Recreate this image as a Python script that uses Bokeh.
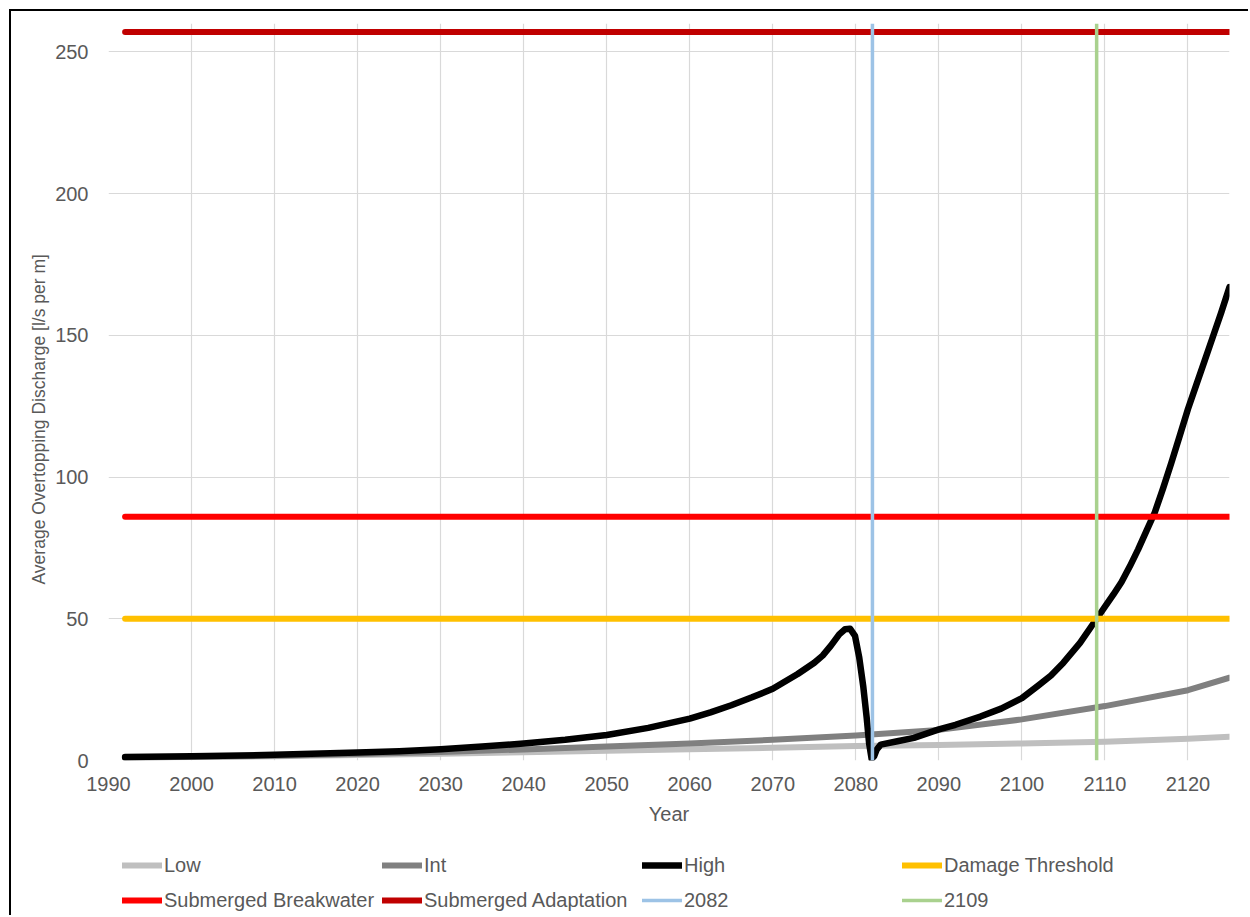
from bokeh.plotting import figure
from bokeh.layouts import column
from bokeh.models import Range1d, FixedTicker, Legend, LegendItem, Title
from bokeh.embed import file_html
from bokeh.resources import INLINE

# ---------------- data ----------------
years = [1992, 2000, 2010, 2020, 2030, 2040, 2050, 2060, 2070, 2080, 2090, 2100, 2110, 2120, 2125]
low = [1.0, 1.2, 1.5, 1.9, 2.4, 2.9, 3.4, 4.0, 4.5, 5.1, 5.5, 6.0, 6.6, 7.7, 8.4]
intermediate = [1.0, 1.3, 1.7, 2.3, 3.0, 3.9, 4.9, 6.0, 7.3, 8.8, 10.8, 14.5, 19.2, 24.8, 29.2]

high_years = [1992, 2000, 2010, 2020, 2025, 2030, 2035, 2040, 2045, 2050, 2055, 2060, 2062.5,
              2065, 2067.5, 2070, 2073, 2075, 2076, 2077, 2078, 2078.7, 2079.3, 2079.9, 2080.4,
              2080.9, 2081.3, 2081.6, 2081.9, 2082.2, 2082.5, 2083.0, 2085, 2087, 2090, 2092,
              2095, 2097.5, 2100, 2102, 2103.5, 2105, 2107, 2109, 2111, 2112, 2113, 2114, 2115,
              2116, 2117, 2118, 2119, 2120, 2121, 2122, 2123, 2124, 2125]
high = [1.2, 1.5, 2.0, 2.8, 3.3, 4.0, 4.9, 6.0, 7.3, 9.0, 11.5, 14.8, 17.0,
        19.5, 22.3, 25.3, 30.5, 34.5, 37.0, 40.5, 44.5, 46.3, 46.5, 44.0, 36.5,
        26.0, 15.3, 6.0, 0.6, 1.5, 3.8, 5.6, 6.8, 8.0, 11.0, 12.6,
        15.5, 18.3, 22.0, 26.5, 30.0, 34.5, 41.5, 50.0, 58.5, 63.0, 68.5, 74.5, 81.0,
        87.5, 96.0, 105.0, 114.5, 124.0, 132.5, 141.0, 149.5, 158.0, 167.0]

threshold_years = [1992, 2125]
damage_threshold = [50, 50]
submerged_breakwater = [86, 86]
submerged_adaptation = [257, 257]

marker_2082 = [2082, 2082]
marker_2109 = [2109, 2109]
marker_span = [0, 260]

x_ticks = [1990, 2000, 2010, 2020, 2030, 2040, 2050, 2060, 2070, 2080, 2090, 2100, 2110, 2120]
y_ticks = [0, 50, 100, 150, 200, 250]

series_names = ["Low", "Int", "High", "Damage Threshold",
                "Submerged Breakwater", "Submerged Adaptation", "2082", "2109"]
series_colors = ["#BFBFBF", "#808080", "#000000", "#FFC000",
                 "#FF0000", "#C00000", "#9DC3E6", "#A9D18E"]
series_widths = [6, 6, 6.5, 6, 6, 6, 3.5, 3.5]
series_xy = [(years, low), (years, intermediate), (high_years, high),
             (threshold_years, damage_threshold), (threshold_years, submerged_breakwater),
             (threshold_years, submerged_adaptation), (marker_2082, marker_span),
             (marker_2109, marker_span)]

FONT = "Liberation Sans"
TXT = "#595959"

# ---------------- main chart ----------------
p = figure(width=1248, height=848, output_backend="svg", toolbar_location=None,
           x_range=Range1d(1990, 2125), y_range=Range1d(0, 260),
           min_border_left=108, min_border_right=19, min_border_top=23, min_border_bottom=88)
p.styles = {"background": "linear-gradient(#000,#000) 9px 9px / 2px 100% no-repeat, "
                          "linear-gradient(#000,#000) 9px 9px / 100% 2px no-repeat, #ffffff"}
p.border_fill_color = None
p.outline_line_color = None
p.background_fill_color = "white"

p.xaxis.ticker = FixedTicker(ticks=x_ticks)
p.yaxis.ticker = FixedTicker(ticks=y_ticks)
for ax in (p.xaxis[0], p.yaxis[0]):
    ax.axis_line_color = None
    ax.major_tick_line_color = None
    ax.minor_tick_line_color = None
    ax.major_label_text_font = FONT
    ax.major_label_text_font_size = "20px"
    ax.major_label_text_color = TXT
    ax.axis_label_text_font = FONT
    ax.axis_label_text_font_style = "normal"
    ax.axis_label_text_color = TXT
p.xaxis.axis_label = "Year"
p.xaxis.axis_label_text_font_size = "20px"
p.xaxis.major_label_standoff = 10
p.xaxis.axis_label_standoff = 9
p.yaxis.major_label_standoff = 14

p.add_layout(Title(text="Average Overtopping Discharge [l/s per m]", align="left", offset=176,
                   text_font=FONT, text_font_size="17.5px", text_font_style="normal",
                   text_color=TXT, standoff=8), "left")

p.xgrid.ticker = FixedTicker(ticks=x_ticks)
p.ygrid.ticker = FixedTicker(ticks=y_ticks)
p.xgrid.grid_line_color = "#D9D9D9"
p.ygrid.grid_line_color = "#D9D9D9"
p.xgrid.grid_line_width = 1.2
p.ygrid.grid_line_width = 1.2

for i, (xs, ys) in enumerate(series_xy):
    cap = "round" if i < 6 else "butt"
    p.line(xs, ys, line_color=series_colors[i], line_width=series_widths[i],
           line_cap=cap, line_join="round")

# ---------------- legend strip ----------------
lf = figure(width=1248, height=67, output_backend="svg", toolbar_location=None,
            x_axis_type=None, y_axis_type=None, x_range=Range1d(0, 1), y_range=Range1d(0, 1),
            min_border_left=0, min_border_right=0, min_border_top=0, min_border_bottom=0)
lf.styles = {"background": "linear-gradient(#000,#000) 9px 0px / 2px 100% no-repeat, #ffffff"}
lf.border_fill_color = None
lf.background_fill_color = None
lf.outline_line_color = None
lf.grid.visible = False

# legend-only renderers (their data lies outside this strip's ranges, so only the key shows)
keys = [lf.line(xs, ys, line_color=c, line_width=w, line_cap="round")
        for (xs, ys), c, w in zip(series_xy, series_colors, series_widths)]

def make_legend(idx, vy):
    lg = Legend(items=[LegendItem(label=series_names[i], renderers=[keys[i]]) for i in idx],
                orientation="horizontal", location=(14, vy),
                label_text_font=FONT, label_text_font_size="20px", label_text_color=TXT,
                glyph_width=40, glyph_height=24, label_height=24, label_width=216,
                label_standoff=2, spacing=2, padding=0, margin=0,
                border_line_color=None, background_fill_alpha=0)
    lf.add_layout(lg)

make_legend([0, 1, 2, 3], 38)
make_legend([4, 5, 6, 7], 3)

open("out.html", "w").write(file_html(column(p, lf, spacing=0), INLINE))
